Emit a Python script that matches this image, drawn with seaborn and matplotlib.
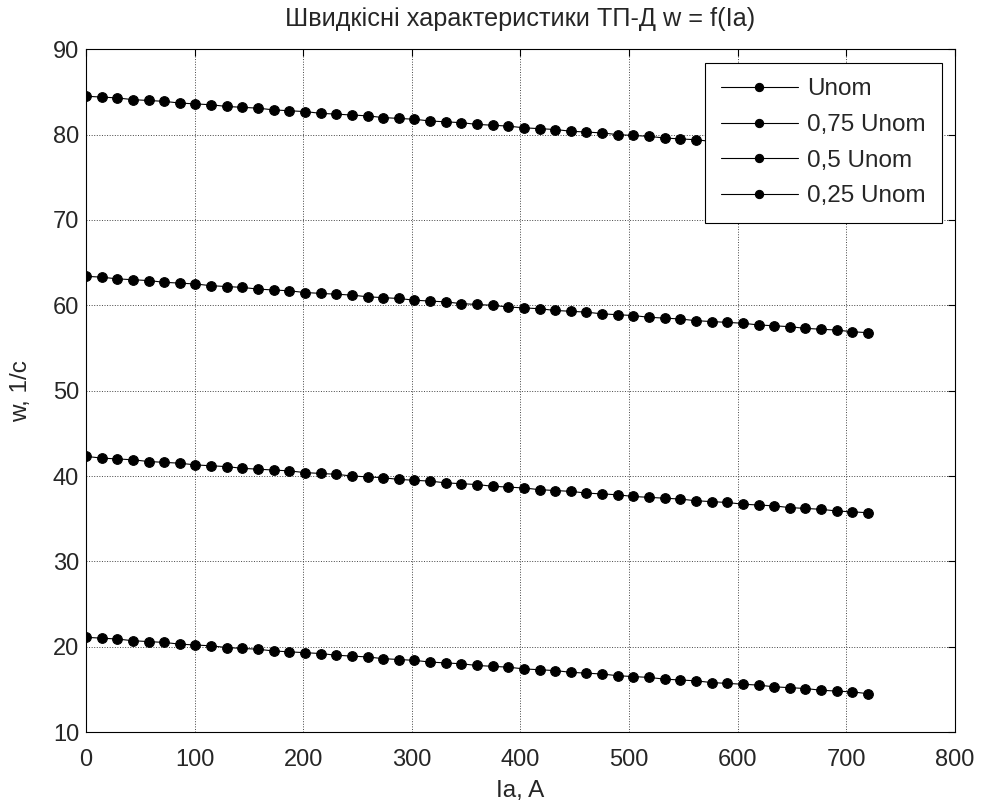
import matplotlib
matplotlib.use('Agg')
import matplotlib.pyplot as plt
import seaborn as sns

# Струм якоря, А
ia = [0, 14.4, 28.8, 43.2, 57.6, 72, 86.4, 100.8, 115.2, 129.6,
      144, 158.4, 172.8, 187.2, 201.6, 216, 230.4, 244.8, 259.2, 273.6,
      288, 302.4, 316.8, 331.2, 345.6, 360, 374.4, 388.8, 403.2, 417.6,
      432, 446.4, 460.8, 475.2, 489.6, 504, 518.4, 532.8, 547.2, 561.6,
      576, 590.4, 604.8, 619.2, 633.6, 648, 662.4, 676.8, 691.2, 705.6, 720]

# Швидкість, 1/c
w_nom = [84.5, 84.4, 84.3, 84.1, 84.0, 83.9, 83.7, 83.6, 83.5, 83.3,
         83.2, 83.1, 82.9, 82.8, 82.7, 82.5, 82.4, 82.3, 82.2, 82.0,
         81.9, 81.8, 81.6, 81.5, 81.4, 81.2, 81.1, 81.0, 80.8, 80.7,
         80.6, 80.4, 80.3, 80.2, 80.0, 79.9, 79.8, 79.6, 79.5, 79.4,
         79.2, 79.1, 79.0, 78.9, 78.7, 78.6, 78.5, 78.3, 78.2, 78.1, 77.9]
w_075 = [63.4, 63.3, 63.1, 63.0, 62.9, 62.7, 62.6, 62.5, 62.3, 62.2,
         62.1, 61.9, 61.8, 61.7, 61.5, 61.4, 61.3, 61.2, 61.0, 60.9,
         60.8, 60.6, 60.5, 60.4, 60.2, 60.1, 60.0, 59.8, 59.7, 59.6,
         59.4, 59.3, 59.2, 59.0, 58.9, 58.8, 58.6, 58.5, 58.4, 58.2,
         58.1, 58.0, 57.9, 57.7, 57.6, 57.5, 57.3, 57.2, 57.1, 56.9, 56.8]
w_05 = [42.3, 42.1, 42.0, 41.9, 41.7, 41.6, 41.5, 41.3, 41.2, 41.1,
        40.9, 40.8, 40.7, 40.6, 40.4, 40.3, 40.2, 40.0, 39.9, 39.8,
        39.6, 39.5, 39.4, 39.2, 39.1, 39.0, 38.8, 38.7, 38.6, 38.4,
        38.3, 38.2, 38.0, 37.9, 37.8, 37.6, 37.5, 37.4, 37.3, 37.1,
        37.0, 36.9, 36.7, 36.6, 36.5, 36.3, 36.2, 36.1, 35.9, 35.8, 35.7]
w_025 = [21.1, 21.0, 20.9, 20.7, 20.6, 20.5, 20.3, 20.2, 20.1, 19.9,
         19.8, 19.7, 19.5, 19.4, 19.3, 19.2, 19.0, 18.9, 18.8, 18.6,
         18.5, 18.4, 18.2, 18.1, 18.0, 17.8, 17.7, 17.6, 17.4, 17.3,
         17.2, 17.0, 16.9, 16.8, 16.6, 16.5, 16.4, 16.2, 16.1, 16.0,
         15.8, 15.7, 15.6, 15.5, 15.3, 15.2, 15.1, 14.9, 14.8, 14.7, 14.5]

labels = ['Unom', '0,75 Unom', '0,5 Unom', '0,25 Unom']
series = [w_nom, w_075, w_05, w_025]

sns.set_style('white')
plt.rcParams['font.family'] = ['Liberation Sans', 'DejaVu Sans']

fig = plt.figure(figsize=(9.84, 8.08), dpi=100)
ax = fig.add_axes([0.0874, 0.094, 0.883, 0.845])

for lab, w in zip(labels, series):
    sns.lineplot(x=ia, y=w, ax=ax, color='black', marker='o', markersize=7,
                 markeredgecolor='black', linewidth=0.8, label=lab)

ax.set_xlim(0, 800)
ax.set_ylim(10, 90)
ax.set_xticks(range(0, 801, 100))
ax.set_yticks(range(10, 91, 10))
ax.grid(True, linestyle=':', color='#444444', linewidth=0.7)
ax.tick_params(direction='in', top=True, right=True, length=5, width=0.8,
               labelsize=17, color='black', pad=5)
ax.tick_params(axis='x', pad=12)
for spine in ax.spines.values():
    spine.set_color('black')
    spine.set_linewidth(0.8)

ax.set_title('Швидкісні характеристики ТП-Д w = f(Ia)', fontsize=18.2, pad=17)
ax.set_xlabel('Ia, A', fontsize=17.5, labelpad=7)
ax.set_ylabel('w, 1/c', fontsize=17.5, labelpad=15)

leg = ax.legend(loc='upper right', fontsize=17.5, frameon=True, fancybox=False,
                edgecolor='black', framealpha=1, handlelength=3.2,
                borderaxespad=0.55, labelspacing=0.56, markerscale=0.85,
                borderpad=0.65, handletextpad=0.36)
leg.get_frame().set_linewidth(0.8)

plt.savefig('out.png', dpi=100)
